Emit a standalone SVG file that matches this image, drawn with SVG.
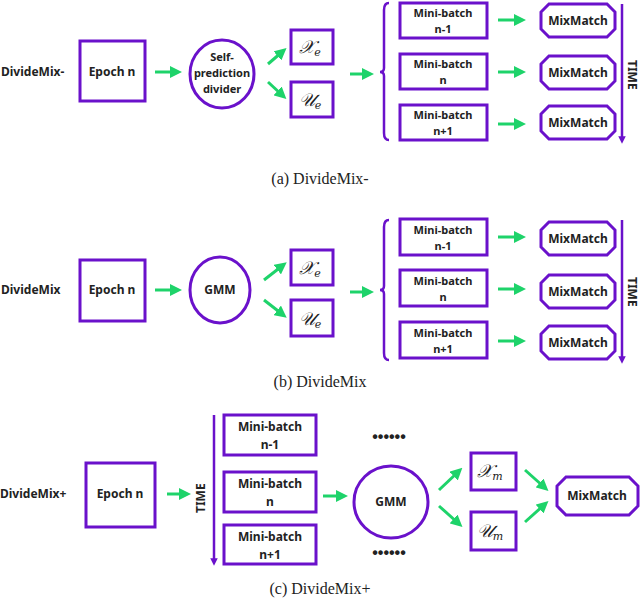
<svg xmlns="http://www.w3.org/2000/svg" width="640" height="600" viewBox="0 0 640 600">
<style>
.box{fill:#fff;stroke:#6a11cb;stroke-width:3}
.t{font-family:"Noto Sans","Liberation Sans",sans-serif;font-weight:bold;font-size:12px;fill:#222;text-anchor:middle}
.t2{font-family:"Noto Sans","Liberation Sans",sans-serif;font-weight:bold;font-size:11px;fill:#222;text-anchor:middle}
.lab{font-family:"Noto Sans","Liberation Sans",sans-serif;font-weight:bold;font-size:12px;fill:#222}
.m{font-family:"DejaVu Serif","Liberation Serif",serif;font-style:italic;font-size:18px;fill:#222;text-anchor:middle}
.cap{font-family:"Liberation Serif",serif;font-size:16px;fill:#222;text-anchor:middle}
.g{stroke:#1ed36a;stroke-width:3;fill:none;marker-end:url(#ga)}
.p{stroke:#6a11cb;stroke-width:2.5;fill:none}
.pa{stroke:#6a11cb;stroke-width:2.5;fill:none;marker-end:url(#pa)}
.dots{font-family:"Liberation Sans",sans-serif;font-weight:bold;font-size:16px;fill:#222;text-anchor:middle}
</style>
<defs>
<marker id="ga" markerWidth="4" markerHeight="4" refX="2" refY="2" orient="auto" markerUnits="strokeWidth"><path d="M0,0 L4,2 L0,4 Z" fill="#1ed36a"/></marker>
<marker id="pa" markerWidth="3" markerHeight="3" refX="1.5" refY="1.5" orient="auto" markerUnits="strokeWidth"><path d="M0,0 L3,1.5 L0,3 Z" fill="#6a11cb"/></marker>
<path id="oct" d="M8,0 H66 L74,8 V25 L66,33 H8 L0,25 V8 Z"/>
<path id="octc" d="M9,0 H72 L81,9 V29 L72,38 H9 L0,29 V9 Z"/>
</defs>

<!-- Panel a -->
<g id="a-label"><text class="lab" x="1" y="76">DivideMix-</text></g>
<g id="a-epoch"><rect class="box" x="80" y="41" width="65" height="60"/><text class="t" x="112" y="76">Epoch n</text></g>
<g id="a-divider"><ellipse class="box" cx="222" cy="74" rx="32" ry="34"/><text class="t2" x="222" y="61">Self-</text><text class="t2" x="222" y="77">prediction</text><text class="t2" x="222" y="93">divider</text></g>
<g id="a-xe"><rect class="box" x="291" y="30" width="42" height="34"/><text class="m" x="310" y="53">𝒳<tspan font-size="11" dy="3">e</tspan></text></g>
<g id="a-ue"><rect class="box" x="291" y="82" width="42" height="35"/><text class="m" x="310" y="106">𝒰<tspan font-size="11" dy="3">e</tspan></text></g>
<g id="a-mb1"><rect class="box" x="400" y="3" width="87" height="35"/><text class="t2" x="443" y="17">Mini-batch</text><text class="t2" x="443" y="33">n-1</text></g>
<g id="a-mb2"><rect class="box" x="400" y="54" width="87" height="35"/><text class="t2" x="443" y="68">Mini-batch</text><text class="t2" x="443" y="84">n</text></g>
<g id="a-mb3"><rect class="box" x="400" y="105" width="87" height="35"/><text class="t2" x="443" y="119">Mini-batch</text><text class="t2" x="443" y="135">n+1</text></g>
<g id="a-mm1"><use href="#oct" class="box" x="541" y="4"/><text class="t" x="578" y="25">MixMatch</text></g>
<g id="a-mm2"><use href="#oct" class="box" x="541" y="56"/><text class="t" x="578" y="77">MixMatch</text></g>
<g id="a-mm3"><use href="#oct" class="box" x="541" y="106"/><text class="t" x="578" y="127">MixMatch</text></g>
<g id="a-time"><text class="lab" transform="translate(628,60) rotate(90)">TIME</text></g>

<!-- Panel b -->
<g id="b-label"><text class="lab" x="1" y="294">DivideMix</text></g>
<g id="b-epoch"><rect class="box" x="80" y="260" width="65" height="61"/><text class="t" x="112" y="294">Epoch n</text></g>
<g id="b-gmm"><ellipse class="box" cx="220" cy="290" rx="30" ry="33"/><text class="t" x="220" y="294">GMM</text></g>
<g id="b-xe"><rect class="box" x="291" y="250" width="42" height="35"/><text class="m" x="310" y="274">𝒳<tspan font-size="11" dy="3">e</tspan></text></g>
<g id="b-ue"><rect class="box" x="291" y="300" width="42" height="36"/><text class="m" x="310" y="325">𝒰<tspan font-size="11" dy="3">e</tspan></text></g>
<g id="b-mb1"><rect class="box" x="400" y="219" width="87" height="36"/><text class="t2" x="443" y="234">Mini-batch</text><text class="t2" x="443" y="250">n-1</text></g>
<g id="b-mb2"><rect class="box" x="400" y="270" width="87" height="36"/><text class="t2" x="443" y="285">Mini-batch</text><text class="t2" x="443" y="301">n</text></g>
<g id="b-mb3"><rect class="box" x="400" y="322" width="87" height="36"/><text class="t2" x="443" y="337">Mini-batch</text><text class="t2" x="443" y="353">n+1</text></g>
<g id="b-mm1"><use href="#oct" class="box" x="541" y="222"/><text class="t" x="578" y="243">MixMatch</text></g>
<g id="b-mm2"><use href="#oct" class="box" x="541" y="275"/><text class="t" x="578" y="296">MixMatch</text></g>
<g id="b-mm3"><use href="#oct" class="box" x="541" y="326"/><text class="t" x="578" y="347">MixMatch</text></g>
<g id="b-time"><text class="lab" transform="translate(628,277) rotate(90)">TIME</text></g>

<!-- Panel c -->
<g id="c-label"><text class="lab" x="0" y="498">DivideMix+</text></g>
<g id="c-epoch"><rect class="box" x="86" y="463" width="69" height="64"/><text class="t" x="120" y="498">Epoch n</text></g>
<g id="c-time"><text class="lab" transform="translate(205,513) rotate(-90)">TIME</text></g>
<g id="c-mb1"><rect class="box" x="224" y="415" width="92" height="40"/><text class="t" x="270" y="431">Mini-batch</text><text class="t" x="270" y="449">n-1</text></g>
<g id="c-mb2"><rect class="box" x="224" y="472" width="92" height="40"/><text class="t" x="270" y="488">Mini-batch</text><text class="t" x="270" y="506">n</text></g>
<g id="c-mb3"><rect class="box" x="224" y="525" width="92" height="39"/><text class="t" x="270" y="541">Mini-batch</text><text class="t" x="270" y="559">n+1</text></g>
<g id="c-gmm"><ellipse class="box" cx="391" cy="502" rx="37" ry="36"/><text class="t" x="391" y="506">GMM</text></g>
<g id="c-dots"><text class="dots" x="389" y="442">••••••</text><text class="dots" x="389" y="558">••••••</text></g>
<g id="c-xm"><rect class="box" x="471" y="453" width="45" height="37"/><text class="m" x="490" y="477">𝒳<tspan font-size="11" dy="3">m</tspan></text></g>
<g id="c-um"><rect class="box" x="471" y="512" width="45" height="38"/><text class="m" x="490" y="537">𝒰<tspan font-size="11" dy="3">m</tspan></text></g>
<g id="c-mm"><use href="#octc" class="box" x="557" y="477"/><text class="t" x="597" y="500">MixMatch</text></g>

<g id="connectors">
<line class="g" x1="155" y1="72" x2="176" y2="72"/>
<line class="g" x1="268" y1="64" x2="282" y2="52"/>
<line class="g" x1="268" y1="82" x2="282" y2="95"/>
<line class="g" x1="350" y1="74" x2="368" y2="74"/>
<path class="p" d="M389,3 Q384,3 384,10 V68 Q384,72 380,72 Q384,72 384,76 V133 Q384,140 389,140"/>
<line class="g" x1="498" y1="20" x2="520" y2="20"/>
<line class="g" x1="498" y1="72" x2="520" y2="72"/>
<line class="g" x1="498" y1="124" x2="520" y2="124"/>
<line class="pa" x1="622" y1="4" x2="622" y2="140"/>

<line class="g" x1="155" y1="290" x2="176" y2="290"/>
<line class="g" x1="264" y1="280" x2="282" y2="266"/>
<line class="g" x1="264" y1="300" x2="282" y2="314"/>
<line class="g" x1="350" y1="292" x2="368" y2="292"/>
<path class="p" d="M389,220 Q384,220 384,227 V286 Q384,290 380,290 Q384,290 384,294 V353 Q384,360 389,360"/>
<line class="g" x1="498" y1="237" x2="520" y2="237"/>
<line class="g" x1="498" y1="289" x2="520" y2="289"/>
<line class="g" x1="498" y1="341" x2="520" y2="341"/>
<line class="pa" x1="622" y1="220" x2="622" y2="360"/>

<line class="g" x1="167" y1="494" x2="185" y2="494"/>
<line class="pa" x1="214" y1="415" x2="214" y2="562"/>
<line class="g" x1="323" y1="496" x2="342" y2="496"/>
<line class="g" x1="439" y1="490" x2="458" y2="472"/>
<line class="g" x1="439" y1="506" x2="458" y2="523"/>
<line class="g" x1="525" y1="470" x2="544" y2="487"/>
<line class="g" x1="525" y1="522" x2="544" y2="505"/>
</g>

<g id="captions">
<text class="cap" x="320" y="184">(a) DivideMix-</text>
<text class="cap" x="320" y="387">(b) DivideMix</text>
<text class="cap" x="320" y="594">(c) DivideMix+</text>
</g>
</svg>
